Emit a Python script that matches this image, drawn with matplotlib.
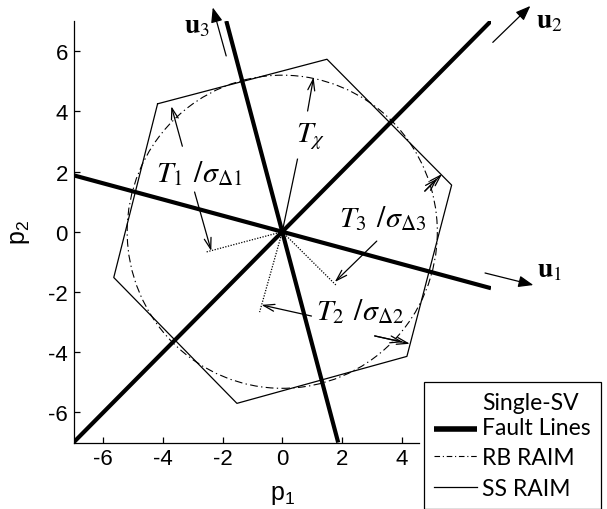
import numpy as np
import matplotlib.pyplot as plt
from matplotlib.patches import Circle
from matplotlib.lines import Line2D
from matplotlib.legend_handler import HandlerLine2D

plt.rcParams['font.family'] = 'Liberation Sans'
plt.rcParams['mathtext.fontset'] = 'stix'
plt.rcParams['mathtext.rm'] = 'Liberation Sans'
plt.rcParams['axes.unicode_minus'] = False

# single-SV fault line directions (degrees) and their labels
fault_angles = [-15.0, 45.0, 105.0]
fault_labels = [r'$\mathbf{u}_1$', r'$\mathbf{u}_2$', r'$\mathbf{u}_3$']
# direction arrows beside each fault line: tail, head, label anchor
u_tails = [(6.80, -1.37), (7.06, 6.29), (-1.88, 5.84)]
u_heads = [(8.42, -1.77), (8.32, 7.50), (-2.33, 7.45)]
u_label_pos = [(8.55, -1.47), (8.52, 6.79), (-3.28, 6.63)]

# SS RAIM hexagon vertices
ss_p1 = [-4.18, 1.50, 5.68, 4.18, -1.52, -5.65, -4.18]
ss_p2 = [4.25, 5.73, 1.55, -4.14, -5.70, -1.52, 4.25]

# RB RAIM chi-square threshold circle
rb_radius = 5.2

# T_k / sigma offsets along the fault directions
dot_ends = [(-2.54, -0.67), (-0.76, -2.67), (1.83, -1.80)]

# annotation arrows (tail -> head)
arrow_tails = [(-2.94, 1.32), (0.98, -2.80), (3.17, -0.31), (0.85, 4.01),
               (-3.35, 2.84), (4.78, 1.35), (4.78, 1.35), (3.10, -3.46), (3.10, -3.46)]
arrow_heads = [(-2.38, -0.64), (-0.70, -2.43), (1.76, -1.67), (1.05, 5.13),
               (-3.72, 4.17), (5.36, 1.92), (5.20, 1.77), (4.28, -3.72), (4.06, -3.67)]
chi_line_end = (0.51, 2.41)

t_labels = [r'$T_1\;\,/\sigma_{\Delta 1}$', r'$T_2\;\,/\sigma_{\Delta 2}$',
            r'$T_3\;\,/\sigma_{\Delta 3}$', r'$T_\chi$']
t_label_pos = [(-4.22, 1.69), (1.12, -2.90), (1.90, 0.20), (0.47, 3.02)]

xticks = [-6, -4, -2, 0, 2, 4]
yticks = [-6, -4, -2, 0, 2, 4, 6]


class HandlerLowLine(HandlerLine2D):
    # put the sample line next to the second row of a two-row label
    def create_artists(self, legend, orig_handle, xdescent, ydescent,
                       width, height, fontsize, trans):
        return super().create_artists(legend, orig_handle, xdescent,
                                      ydescent + 1.2 * fontsize, width, height,
                                      fontsize, trans)


fig = plt.figure(figsize=(6.07, 5.10), dpi=100)
ax = fig.add_axes([73.5 / 607, 1 - 443.5 / 510, 417.5 / 607, 421.5 / 510])

for ang in fault_angles:
    ax.axline((0, 0), slope=np.tan(np.radians(ang)), color='black', lw=3.0,
              solid_capstyle='butt', zorder=3)

ax.plot(ss_p1, ss_p2, color='black', lw=0.9, zorder=2)
ax.add_patch(Circle((0, 0), rb_radius, fill=False, ec='black', lw=0.8,
                    ls=(0, (7, 3, 1.2, 3)), zorder=2))

for end in dot_ends:
    ax.plot([0, end[0]], [0, end[1]], color='black', lw=0.9, ls=(0, (1, 1.2)), zorder=2)
ax.plot([0, chi_line_end[0]], [0, chi_line_end[1]], color='black', lw=0.9, zorder=2)

for tail, head in zip(arrow_tails, arrow_heads):
    ax.annotate('', xy=head, xytext=tail, annotation_clip=False,
                arrowprops=dict(arrowstyle='->,head_length=0.8,head_width=0.25',
                                color='black', lw=0.9, shrinkA=0, shrinkB=0))

for tail, head, pos, lab in zip(u_tails, u_heads, u_label_pos, fault_labels):
    ax.annotate('', xy=head, xytext=tail, annotation_clip=False,
                arrowprops=dict(arrowstyle='-|>,head_length=0.9,head_width=0.35',
                                color='black', lw=0.9, shrinkA=0, shrinkB=0))
    ax.text(pos[0], pos[1], lab, fontsize=20, ha='left', va='baseline')

for pos, lab in zip(t_label_pos, t_labels):
    ax.text(pos[0], pos[1], lab, fontsize=21.5, ha='left', va='baseline')

ax.set_xlim(-7, 7)
ax.set_ylim(-7, 7)
ax.set_xticks(xticks)
ax.set_yticks(yticks)
ax.spines['top'].set_visible(False)
ax.spines['right'].set_visible(False)
ax.spines['bottom'].set_bounds(-7, 4.6)
for s in ('left', 'bottom'):
    ax.spines[s].set_linewidth(0.9)
ax.tick_params(direction='in', length=4, width=0.9, labelsize=16, pad=4)
ax.set_xlabel(r'$\mathrm{p}_1$', fontsize=18, math_fontfamily='custom', labelpad=9)
ax.set_ylabel(r'$\mathrm{p}_2$', fontsize=18, math_fontfamily='custom', labelpad=12)

handles = [Line2D([], [], color='black', lw=4.0, solid_capstyle='butt'),
           Line2D([], [], color='black', lw=0.8, ls=(0, (5, 2.5, 1, 2.5))),
           Line2D([], [], color='black', lw=0.9)]
names = ['Single-SV\nFault Lines', 'RB RAIM', 'SS RAIM']
leg = ax.legend(handles, names, loc='upper left',
                bbox_to_anchor=(424 / 607, 1 - 383 / 510),
                bbox_transform=fig.transFigure, borderaxespad=0,
                prop={'family': 'Lato', 'size': 16.5}, fancybox=False,
                edgecolor='black', framealpha=1, handlelength=1.85,
                handletextpad=0.25, borderpad=0.45, labelspacing=0.42,
                handler_map={handles[0]: HandlerLowLine()})
for t in leg.get_texts():
    t.set_multialignment('left')
    t.set_linespacing(1.2)
leg.get_frame().set_linewidth(0.9)
leg.set_zorder(5)

fig.savefig('out.png', dpi=100)
